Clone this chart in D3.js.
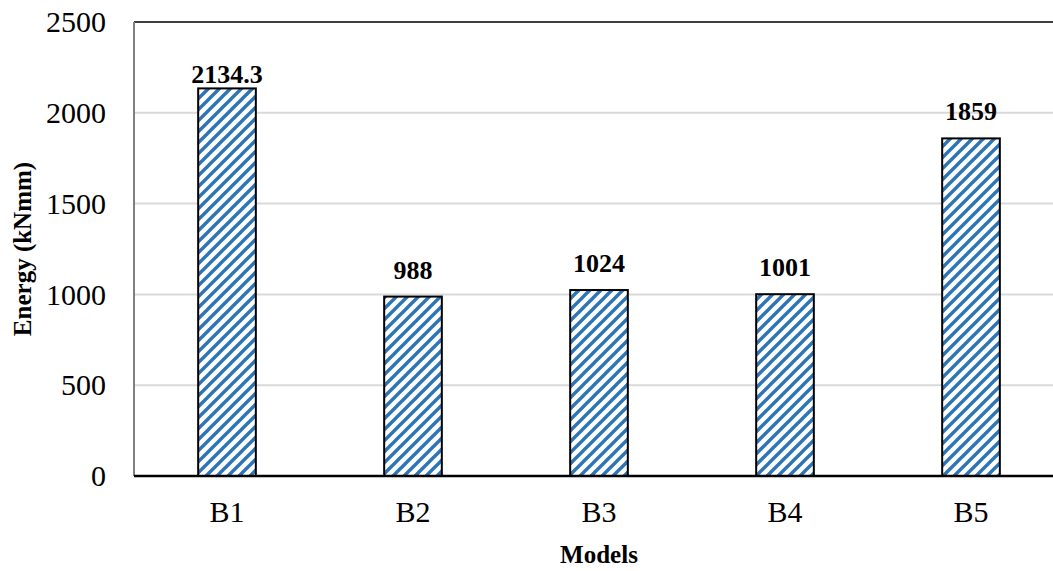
<!DOCTYPE html>
<html>
<head>
<meta charset="utf-8">
<script src="https://cdn.jsdelivr.net/npm/d3@7"></script>
<style>
  html, body { margin: 0; padding: 0; background: #fff; }
  svg text { font-family: "Liberation Serif", "Times New Roman", serif; }
</style>
</head>
<body>
<svg id="chart" width="1053" height="571"></svg>
<script>
// Absorbed energy per model
const models = ["B1", "B2", "B3", "B4", "B5"];
const energy = [2134.3, 988, 1024, 1001, 1859];
const energyLabels = ["2134.3", "988", "1024", "1001", "1859"];
const yTicks = [0, 500, 1000, 1500, 2000, 2500];

const W = 1053, H = 571;
const plot = { left: 134, top: 22, right: 1064, bottom: 476 };

const svg = d3.select("#chart");

// wide upward-diagonal hatch fill
const P = 11;
const defs = svg.append("defs");
const pat = defs.append("pattern")
  .attr("id", "hatch")
  .attr("patternUnits", "userSpaceOnUse")
  .attr("width", P).attr("height", P);
pat.append("rect").attr("width", P).attr("height", P).attr("fill", "#fff");
pat.append("path")
  .attr("d", `M${-P / 2},${P / 2} L${P / 2},${-P / 2} M0,${P} L${P},0 M${P / 2},${1.5 * P} L${1.5 * P},${P / 2}`)
  .attr("stroke", "#2e75b6")
  .attr("stroke-width", 3.4)
  .attr("fill", "none");

const x = d3.scaleBand()
  .domain(models)
  .range([plot.left, plot.right])
  .paddingInner(0.69)
  .paddingOuter(0.345);

const y = d3.scaleLinear()
  .domain([0, 2500])
  .range([plot.bottom, plot.top]);

// horizontal gridlines
svg.append("g")
  .selectAll("line")
  .data(yTicks.filter(d => d > 0 && d < 2500))
  .join("line")
  .attr("x1", plot.left).attr("x2", W)
  .attr("y1", d => y(d)).attr("y2", d => y(d))
  .attr("stroke", "#d9d9d9")
  .attr("stroke-width", 2);

// frame: top and left edges
svg.append("line")
  .attr("x1", plot.left).attr("x2", W)
  .attr("y1", y(2500)).attr("y2", y(2500))
  .attr("stroke", "#404040").attr("stroke-width", 2);
svg.append("line")
  .attr("x1", plot.left).attr("x2", plot.left)
  .attr("y1", y(2500)).attr("y2", y(0))
  .attr("stroke", "#808080").attr("stroke-width", 2);

// y axis tick labels
const yAxis = d3.axisLeft(y).tickValues(yTicks).tickSize(0).tickPadding(28)
  .tickFormat(d3.format("d"));
const gy = svg.append("g")
  .attr("transform", `translate(${plot.left},0)`)
  .call(yAxis);
gy.select(".domain").remove();
gy.selectAll("text")
  .attr("font-size", 30)
  .attr("fill", "#000")
  .attr("font-family", "Liberation Serif, Times New Roman, serif");

// bars
svg.append("g")
  .selectAll("rect")
  .data(models)
  .join("rect")
  .attr("x", d => x(d))
  .attr("width", x.bandwidth())
  .attr("y", (d, i) => y(energy[i]))
  .attr("height", (d, i) => y(0) - y(energy[i]))
  .attr("fill", "url(#hatch)")
  .attr("stroke", "#000")
  .attr("stroke-width", 2);

// x axis baseline
svg.append("line")
  .attr("x1", plot.left).attr("x2", W)
  .attr("y1", y(0)).attr("y2", y(0))
  .attr("stroke", "#000").attr("stroke-width", 2.5);

// x axis category labels
const xAxis = d3.axisBottom(x).tickSize(0).tickPadding(25);
const gx = svg.append("g")
  .attr("transform", `translate(0,${plot.bottom})`)
  .call(xAxis);
gx.select(".domain").remove();
gx.selectAll("text")
  .attr("font-size", 30)
  .attr("fill", "#000")
  .attr("font-family", "Liberation Serif, Times New Roman, serif");

// value labels above bars (kept inside the plot frame)
svg.append("g")
  .selectAll("text")
  .data(models)
  .join("text")
  .attr("x", d => x(d) + x.bandwidth() / 2)
  .attr("y", (d, i) => Math.max(y(energy[i]) - 18, y(2500) + 61))
  .attr("text-anchor", "middle")
  .attr("font-size", 26)
  .attr("font-weight", "bold")
  .text((d, i) => energyLabels[i]);

// axis titles
svg.append("text")
  .attr("x", (plot.left + plot.right) / 2)
  .attr("y", 563)
  .attr("text-anchor", "middle")
  .attr("font-size", 25)
  .attr("font-weight", "bold")
  .text("Models");

svg.append("text")
  .attr("transform", `translate(31,${(plot.top + plot.bottom) / 2}) rotate(-90)`)
  .attr("text-anchor", "middle")
  .attr("font-size", 25)
  .attr("font-weight", "bold")
  .text("Energy (kNmm)");
</script>
</body>
</html>
